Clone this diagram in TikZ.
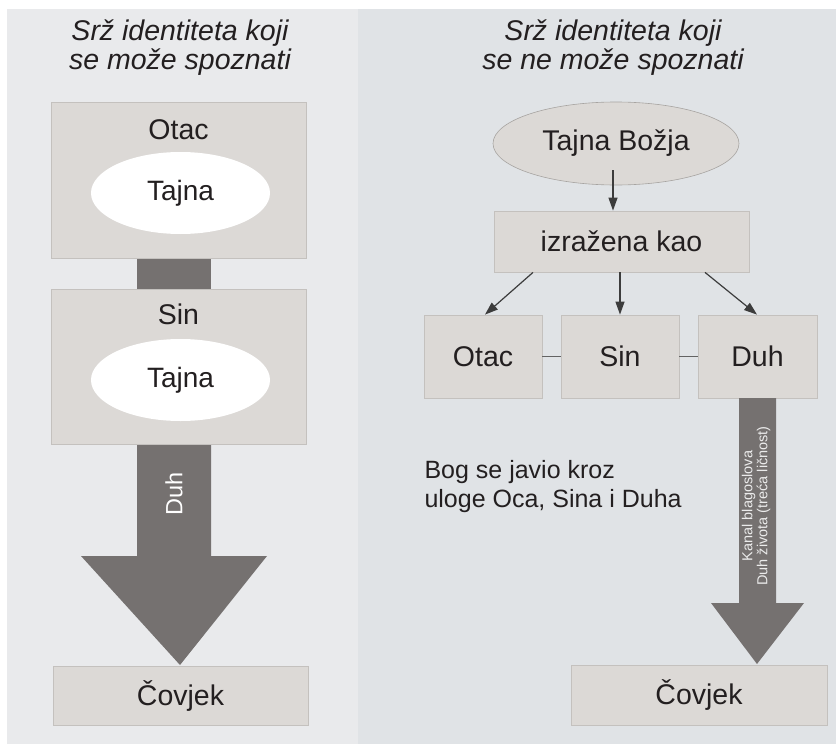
\documentclass[tikz,border=0pt]{standalone}
\usepackage{fontspec}
\setmainfont{Liberation Sans}
\usetikzlibrary{shapes.geometric,arrows.meta}
\definecolor{panelL}{HTML}{E9EAEC}
\definecolor{panelR}{HTML}{E0E3E6}
\definecolor{boxfill}{HTML}{DCD9D6}
\definecolor{boxline}{HTML}{C4C1BE}
\definecolor{darkarrow}{HTML}{757170}
\definecolor{txt}{HTML}{231F20}
\definecolor{conn}{HTML}{3C3C3C}
\tikzset{
  fs/.style={font=\fontsize{#1}{#1}\selectfont},
  greybox/.style={rectangle, fill=boxfill, draw=boxline, line width=0.8pt, inner sep=0pt, text=txt},
  whiteell/.style={ellipse, fill=white, inner sep=0pt, text=txt, minimum width=179pt, minimum height=82pt},
  titletxt/.style={align=center, text=txt, font=\fontsize{28.5}{29}\selectfont\itshape},
  conarrow/.style={draw=conn, line width=1.2pt, -{Triangle[length=13pt,width=9pt]}},
  conline/.style={draw=conn!80, line width=1.6pt},
  bigarrow/.style={fill=darkarrow},
}
\begin{document}
\begin{tikzpicture}[x=1pt,y=-1pt]
\useasboundingbox (0,0) rectangle (836,744);
\fill[white] (0,0) rectangle (836,744);
\fill[panelL] (7,9) rectangle (358,744);
\fill[panelR] (358,9) rectangle (836,744);

% ---------- left panel ----------
\node[titletxt] (titleL) at (180,48) {Srž identiteta koji\\se može spoznati};

\fill[bigarrow] (137,250) rectangle (211,296);
\node[greybox, minimum width=255pt, minimum height=156pt] (otacL) at (178.5,180) {};
\node[fs=28.5, text=txt] (otacLt) at (178.5,130) {Otac};
\node[whiteell, fs=28] (tajna1) at (180.5,193) {Tajna};

\fill[bigarrow] (137,440) -- (211,440) -- (211,556) -- (267,556) -- (180,665) -- (81,556) -- (137,556) -- cycle;
\node[greybox, minimum width=255pt, minimum height=155pt] (sinL) at (178.5,366.5) {};
\node[fs=28.5, text=txt] (sinLt) at (178.5,314) {Sin};
\node[whiteell, fs=28] (tajna2) at (180.5,380) {Tajna};
\node[fs=23.5, text=white, rotate=90] (duhL) at (174,494) {Duh};

\node[greybox, minimum width=255pt, minimum height=59pt, fs=28.5] (covjekL) at (180.5,695.5) {Čovjek};

% ---------- right panel ----------
\node[titletxt] (titleR) at (613,48) {Srž identiteta koji\\se ne može spoznati};

\node[ellipse, fill=boxfill, draw=boxline!85!black, line width=0.6pt, inner sep=0pt,
      minimum width=246pt, minimum height=83pt, fs=28.5, text=txt] (tajnaB) at (616,143.5) {Tajna Božja};
\node[greybox, minimum width=255pt, minimum height=61pt, fs=28.5] (izr) at (621.5,241.5) {izražena kao};

\node[greybox, minimum width=118pt, minimum height=83pt, fs=28.5] (otacR) at (483,356.5) {Otac};
\node[greybox, minimum width=118pt, minimum height=83pt, fs=28.5] (sinR) at (620,356.5) {Sin};
\node[greybox, minimum width=119pt, minimum height=83pt, fs=28.5] (duhR) at (757.5,356.5) {Duh};

\draw[conline] (otacR.east) -- (sinR.west);
\draw[conline] (sinR.east) -- (duhR.west);

\coordinate (a0) at (613,170);
\draw[conarrow] (a0) -- (izr.north -| a0);
\draw[conarrow] (izr.south -| 533,0) -- (otacR.north -| 485,0);
\draw[conarrow] (izr.south -| sinR.north) -- (sinR.north);
\draw[conarrow] (izr.south -| 705,0) -- (duhR.north -| 757,0);

\fill[bigarrow] (739,398) -- (776,398) -- (776,603) -- (804,603) -- (757,664) -- (711,603) -- (739,603) -- cycle;
\node[rotate=90, align=center, text=white!92!black, font=\fontsize{14.5}{15}\selectfont] (kanal) at (756,506)
  {Kanal blagoslova\\Duh života (treća ličnost)};

\node[greybox, minimum width=256pt, minimum height=60pt, fs=28.5] (covjekR) at (699,695) {Čovjek};

\node[align=left, anchor=west, text=txt, font=\fontsize{25}{29}\selectfont] (bog) at (421,487)
  {Bog se javio kroz\\uloge Oca, Sina i Duha};
\end{tikzpicture}
\end{document}
